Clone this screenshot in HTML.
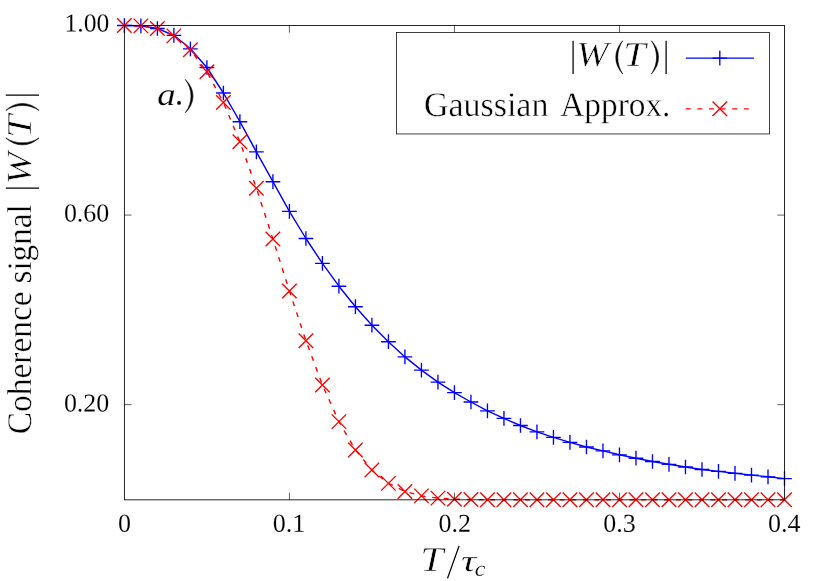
<!DOCTYPE html>
<html><head><meta charset="utf-8"><title>Coherence signal</title>
<style>html,body{margin:0;padding:0;background:#fff;}svg{display:block;will-change:transform;}text{font-family:"Liberation Serif",serif;fill:#000;}.it{font-style:italic;}</style>
</head><body>
<svg width="830" height="581" viewBox="0 0 830 581">
<rect x="0" y="0" width="830" height="581" fill="#fff"/>
<polyline points="124.38,25.50 140.88,25.80 157.39,28.50 173.89,35.30 190.39,48.80 206.89,67.50 223.40,93.00 239.90,121.70 256.40,151.80 272.91,181.70 289.41,211.40 305.91,238.50 322.42,263.40 338.92,286.20 355.42,306.70 371.92,325.20 388.43,341.70 404.93,356.90 421.43,370.10 437.94,382.10 454.44,392.60 470.94,402.00 487.45,410.80 503.95,418.40 520.45,425.50 536.95,431.80 553.46,437.30 569.96,442.30 586.46,447.00 602.97,450.90 619.47,454.80 635.97,458.20 652.48,461.50 668.98,464.30 685.48,467.00 701.99,469.50 718.49,471.40 734.99,473.30 751.49,475.10 768.00,476.80 784.50,478.60" fill="none" stroke="#0000ff" stroke-width="1.4" stroke-linejoin="round"/>
<path d="M117.03 25.50H131.73M124.38 18.15V32.85M133.53 25.80H148.23M140.88 18.45V33.15M150.04 28.50H164.74M157.39 21.15V35.85M166.54 35.30H181.24M173.89 27.95V42.65M183.04 48.80H197.74M190.39 41.45V56.15M199.54 67.50H214.24M206.89 60.15V74.85M216.05 93.00H230.75M223.40 85.65V100.35M232.55 121.70H247.25M239.90 114.35V129.05M249.05 151.80H263.75M256.40 144.45V159.15M265.56 181.70H280.26M272.91 174.35V189.05M282.06 211.40H296.76M289.41 204.05V218.75M298.56 238.50H313.26M305.91 231.15V245.85M315.07 263.40H329.77M322.42 256.05V270.75M331.57 286.20H346.27M338.92 278.85V293.55M348.07 306.70H362.77M355.42 299.35V314.05M364.57 325.20H379.27M371.92 317.85V332.55M381.08 341.70H395.78M388.43 334.35V349.05M397.58 356.90H412.28M404.93 349.55V364.25M414.08 370.10H428.78M421.43 362.75V377.45M430.59 382.10H445.29M437.94 374.75V389.45M447.09 392.60H461.79M454.44 385.25V399.95M463.59 402.00H478.29M470.94 394.65V409.35M480.10 410.80H494.80M487.45 403.45V418.15M496.60 418.40H511.30M503.95 411.05V425.75M513.10 425.50H527.80M520.45 418.15V432.85M529.60 431.80H544.30M536.95 424.45V439.15M546.11 437.30H560.81M553.46 429.95V444.65M562.61 442.30H577.31M569.96 434.95V449.65M579.11 447.00H593.81M586.46 439.65V454.35M595.62 450.90H610.32M602.97 443.55V458.25M612.12 454.80H626.82M619.47 447.45V462.15M628.62 458.20H643.32M635.97 450.85V465.55M645.13 461.50H659.83M652.48 454.15V468.85M661.63 464.30H676.33M668.98 456.95V471.65M678.13 467.00H692.83M685.48 459.65V474.35M694.63 469.50H709.34M701.99 462.15V476.85M711.14 471.40H725.84M718.49 464.05V478.75M727.64 473.30H742.34M734.99 465.95V480.65M744.14 475.10H758.84M751.49 467.75V482.45M760.65 476.80H775.35M768.00 469.45V484.15M777.15 478.60H791.85M784.50 471.25V485.95" stroke="#0000ff" stroke-width="1.35" fill="none"/>
<polyline points="124.38,25.50 140.88,25.89 157.39,28.60 173.89,35.89 190.39,49.77 206.89,71.74 223.40,102.54 239.90,141.85 256.40,188.20 272.91,239.03 289.41,291.02 305.91,340.68 322.42,384.93 338.92,421.63 355.42,449.91 371.92,470.08 388.43,483.37 404.93,491.41 421.43,495.87 437.94,498.12 454.44,499.16 470.94,499.59 487.45,499.75 503.95,499.81 520.45,499.82 536.95,499.83 553.46,499.83 569.96,499.83 586.46,499.83 602.97,499.83 619.47,499.83 635.97,499.83 652.48,499.83 668.98,499.83 685.48,499.83 701.99,499.83 718.49,499.83 734.99,499.83 751.49,499.83 768.00,499.83 784.50,499.83" fill="none" stroke="#ff0000" stroke-width="1.4" stroke-dasharray="4.9 6.7" stroke-dashoffset="2" stroke-linejoin="round"/>
<path d="M117.13 18.25L131.63 32.75M117.13 32.75L131.63 18.25M133.63 18.64L148.13 33.14M133.63 33.14L148.13 18.64M150.14 21.35L164.64 35.85M150.14 35.85L164.64 21.35M166.64 28.64L181.14 43.14M166.64 43.14L181.14 28.64M183.14 42.52L197.64 57.02M183.14 57.02L197.64 42.52M199.64 64.49L214.14 78.99M199.64 78.99L214.14 64.49M216.15 95.29L230.65 109.79M216.15 109.79L230.65 95.29M232.65 134.60L247.15 149.10M232.65 149.10L247.15 134.60M249.15 180.95L263.65 195.45M249.15 195.45L263.65 180.95M265.66 231.78L280.16 246.28M265.66 246.28L280.16 231.78M282.16 283.77L296.66 298.27M282.16 298.27L296.66 283.77M298.66 333.43L313.16 347.93M298.66 347.93L313.16 333.43M315.17 377.68L329.67 392.18M315.17 392.18L329.67 377.68M331.67 414.38L346.17 428.88M331.67 428.88L346.17 414.38M348.17 442.66L362.67 457.16M348.17 457.16L362.67 442.66M364.67 462.83L379.17 477.33M364.67 477.33L379.17 462.83M381.18 476.12L395.68 490.62M381.18 490.62L395.68 476.12M397.68 484.16L412.18 498.66M397.68 498.66L412.18 484.16M414.18 488.62L428.68 503.12M414.18 503.12L428.68 488.62M430.69 490.87L445.19 505.37M430.69 505.37L445.19 490.87M447.19 491.91L461.69 506.41M447.19 506.41L461.69 491.91M463.69 492.34L478.19 506.84M463.69 506.84L478.19 492.34M480.20 492.50L494.70 507.00M480.20 507.00L494.70 492.50M496.70 492.56L511.20 507.06M496.70 507.06L511.20 492.56M513.20 492.57L527.70 507.07M513.20 507.07L527.70 492.57M529.70 492.58L544.20 507.08M529.70 507.08L544.20 492.58M546.21 492.58L560.71 507.08M546.21 507.08L560.71 492.58M562.71 492.58L577.21 507.08M562.71 507.08L577.21 492.58M579.21 492.58L593.71 507.08M579.21 507.08L593.71 492.58M595.72 492.58L610.22 507.08M595.72 507.08L610.22 492.58M612.22 492.58L626.72 507.08M612.22 507.08L626.72 492.58M628.72 492.58L643.22 507.08M628.72 507.08L643.22 492.58M645.23 492.58L659.73 507.08M645.23 507.08L659.73 492.58M661.73 492.58L676.23 507.08M661.73 507.08L676.23 492.58M678.23 492.58L692.73 507.08M678.23 507.08L692.73 492.58M694.74 492.58L709.24 507.08M694.74 507.08L709.24 492.58M711.24 492.58L725.74 507.08M711.24 507.08L725.74 492.58M727.74 492.58L742.24 507.08M727.74 507.08L742.24 492.58M744.24 492.58L758.74 507.08M744.24 507.08L758.74 492.58M760.75 492.58L775.25 507.08M760.75 507.08L775.25 492.58M777.25 492.58L791.75 507.08M777.25 507.08L791.75 492.58" stroke="#ff0000" stroke-width="1.35" fill="none"/>
<path d="M289.41 499.83v-7.2M289.41 25.5v7.2M454.44 499.83v-7.2M454.44 25.5v7.2M619.47 499.83v-7.2M619.47 25.5v7.2M124.38 215.08h7.2M784.5 215.08h-7.2M124.38 404.65h7.2M784.5 404.65h-7.2" stroke="#000" stroke-width="0.62" fill="none"/>
<rect x="124.38" y="25.5" width="660.12" height="474.33" fill="none" stroke="#000" stroke-width="0.85"/>
<rect x="396.45" y="32.5" width="372.97" height="101.45" fill="#fff" stroke="#000" stroke-width="0.75"/>
<path d="M685.8 58.1H753.9" stroke="#0000ff" stroke-width="1.35"/>
<path d="M712.50 58.10H727.10M719.80 50.80V65.40" stroke="#0000ff" stroke-width="1.35"/>
<path d="M685.8 108.85H753.9" stroke="#ff0000" stroke-width="1.35" stroke-dasharray="4.9 6.7"/>
<path d="M712.55 101.50L727.05 116.00M712.55 116.00L727.05 101.50" stroke="#ff0000" stroke-width="1.35"/>
<text transform="translate(64.44,31.50) scale(0.9930,1) rotate(0.03)" font-size="25.8" stroke="#fff" stroke-width="0.1">1.00</text>
<text transform="translate(63.91,221.45) scale(1.0050,1) rotate(0.03)" font-size="25.8" stroke="#fff" stroke-width="0.1">0.60</text>
<text transform="translate(63.91,411.45) scale(1.0050,1) rotate(0.03)" font-size="25.8" stroke="#fff" stroke-width="0.1">0.20</text>
<text transform="translate(117.88,531.75) scale(1.0070,1) rotate(0.03)" font-size="25.8" stroke="#fff" stroke-width="0.1">0</text>
<text transform="translate(272.86,531.75) scale(1.0070,1) rotate(0.03)" font-size="25.8" stroke="#fff" stroke-width="0.1">0.1</text>
<text transform="translate(438.42,531.75) scale(1.0070,1) rotate(0.03)" font-size="25.8" stroke="#fff" stroke-width="0.1">0.2</text>
<text transform="translate(603.24,531.75) scale(1.0070,1) rotate(0.03)" font-size="25.8" stroke="#fff" stroke-width="0.1">0.3</text>
<text transform="translate(767.97,531.75) scale(1.0070,1) rotate(0.03)" font-size="25.8" stroke="#fff" stroke-width="0.1">0.4</text>
<text transform="translate(423.91,115.95) scale(0.9848,1) rotate(0.03)" font-size="34.5" stroke="#fff" stroke-width="0.4">Gaussian</text>
<text transform="translate(560.27,115.95) scale(0.9666,1) rotate(0.03)" font-size="34.5" stroke="#fff" stroke-width="0.4">Approx.</text>
<path d="M573.10 40.70V73.95M666.10 40.70V73.95" stroke="#000" stroke-width="1.25" fill="none"/><text class="it" transform="translate(576.34,65.77) scale(1.1108,1) rotate(0.03)" font-size="34.93" stroke="#fff" stroke-width="0.55">W</text><path d="M622.73 40.70C613.46 50.68 613.46 63.98 622.73 73.95C616.12 63.98 616.12 50.68 622.73 40.70Z" fill="#000" stroke="#000" stroke-width="0.55" stroke-linejoin="round"/><text class="it" transform="translate(623.25,65.90) scale(1.1571,1) rotate(0.03)" font-size="34.97" stroke="#fff" stroke-width="0.55">T</text><path d="M651.38 40.70C660.91 50.68 660.91 63.98 651.38 73.95C658.24 63.98 658.24 50.68 651.38 40.70Z" fill="#000" stroke="#000" stroke-width="0.55" stroke-linejoin="round"/>
<text class="it" transform="translate(157.21,104.58) scale(1.1706,1) rotate(0.03)" font-size="31.40" stroke="#fff" stroke-width="0.15">a</text>
<circle cx="179.05" cy="102.9" r="1.9" fill="#000"/>
<path d="M185.28 79.40C195.61 89.39 195.61 102.71 185.28 112.70C192.94 102.71 192.94 89.39 185.28 79.40Z" fill="#000" stroke="#000" stroke-width="0.55" stroke-linejoin="round"/>
<text class="it" transform="translate(420.37,570.80) scale(1.1909,1) rotate(0.03)" font-size="34.97" stroke="#fff" stroke-width="0.55">T</text>
<path d="M459.1 545.9L447.5 578.4" stroke="#000" stroke-width="1.3" fill="none"/>
<text class="it" transform="translate(460.98,570.70) scale(1.3785,1) rotate(0.03)" font-size="30.51" stroke="#fff" stroke-width="0.3">τ</text>
<text class="it" transform="translate(474.86,575.69) scale(1.1368,1) rotate(0.03)" font-size="21.21" stroke="#fff" stroke-width="0.2">c</text>
<g transform="translate(31.0,0) rotate(-90)">
<text transform="translate(-434.27,0.00) scale(0.9697,1) rotate(0.03)" font-size="34.5" stroke="#fff" stroke-width="0.4">Coherence</text>
<text transform="translate(-283.56,0.00) scale(0.9638,1) rotate(0.03)" font-size="34.5" stroke="#fff" stroke-width="0.4">signal</text>
<path d="M-188.20 -25.20V8.05M-95.20 -25.20V8.05" stroke="#000" stroke-width="1.25" fill="none"/><text class="it" transform="translate(-184.34,-0.13) scale(1.1040,1) rotate(0.03)" font-size="34.93" stroke="#fff" stroke-width="0.55">W</text><path d="M-137.88 -25.20C-147.14 -15.22 -147.14 -1.92 -137.88 8.05C-144.47 -1.92 -144.47 -15.22 -137.88 -25.20Z" fill="#000" stroke="#000" stroke-width="0.55" stroke-linejoin="round"/><text class="it" transform="translate(-138.01,0.00) scale(1.1857,1) rotate(0.03)" font-size="34.97" stroke="#fff" stroke-width="0.55">T</text><path d="M-110.42 -25.20C-101.16 -15.22 -101.16 -1.92 -110.42 8.05C-103.83 -1.92 -103.83 -15.22 -110.42 -25.20Z" fill="#000" stroke="#000" stroke-width="0.55" stroke-linejoin="round"/>
</g>
</svg></body></html>
